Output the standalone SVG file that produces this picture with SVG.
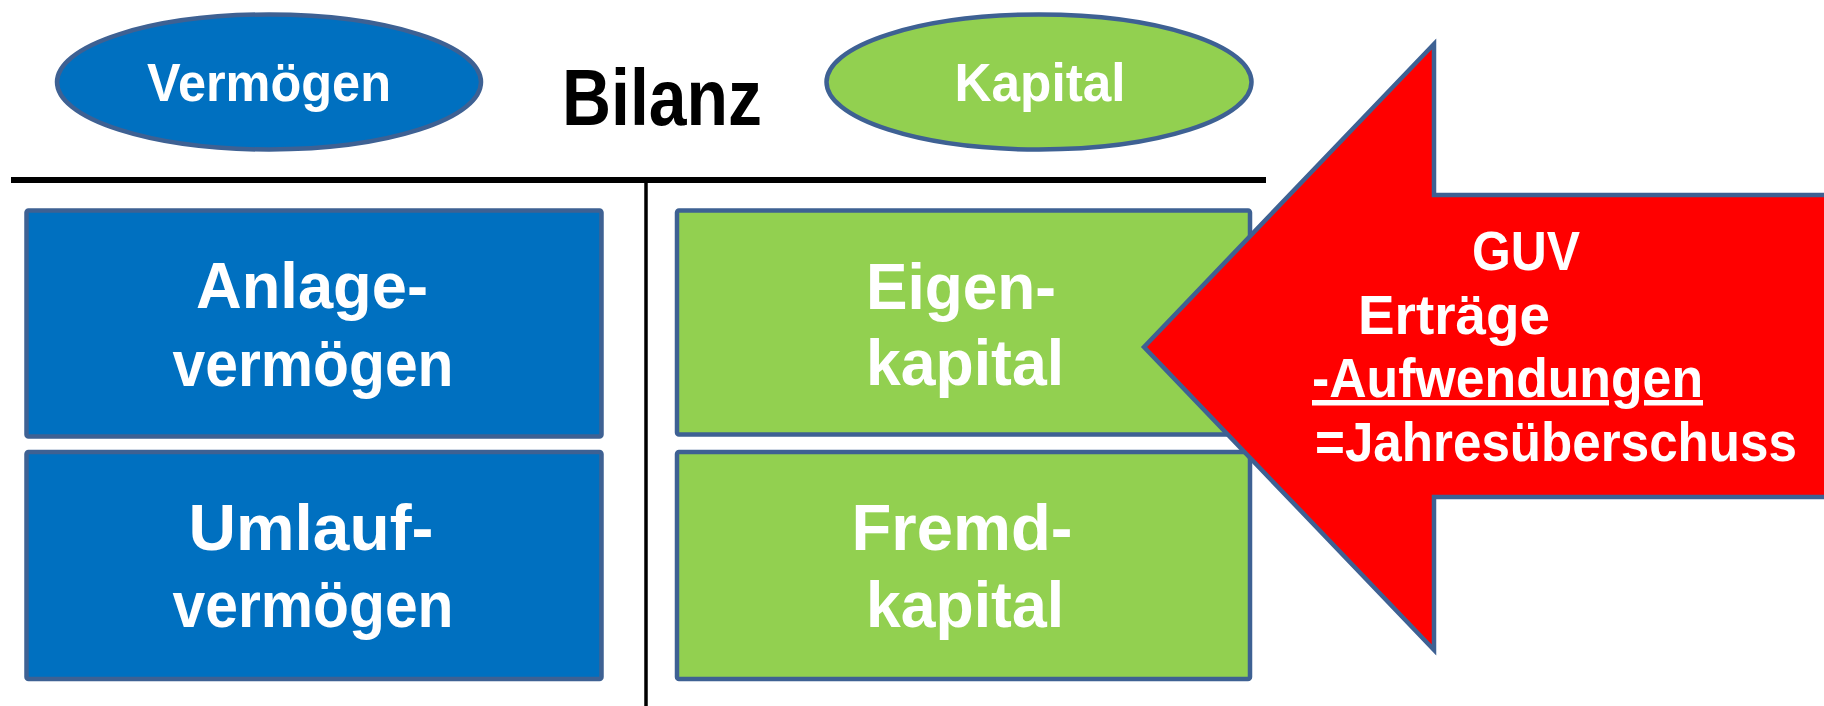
<svg xmlns="http://www.w3.org/2000/svg" width="1824" height="706" viewBox="0 0 1824 706">
<style>
.blue{fill:#0070C0;stroke:#3E6193;stroke-width:4.5}
.green{fill:#92D050;stroke:#3E6193;stroke-width:4.5}
.red{fill:#FF0000;stroke:#3E6193;stroke-width:4.5;stroke-linejoin:miter}
.t{font-family:"Liberation Sans","DejaVu Sans",sans-serif;font-weight:bold;fill:#FFFFFF}
.big{font-size:64px;text-anchor:middle}
.mid{font-size:54px;text-anchor:middle}
.arr{font-size:55px}
.ul{text-decoration:underline}
.title{font-family:"Liberation Sans","DejaVu Sans",sans-serif;font-weight:bold;font-size:80px;fill:#000000}
</style>
<rect width="1824" height="706" fill="#FFFFFF"/>
<g id="lines">
<line x1="11" y1="180" x2="1266" y2="180" stroke="#000" stroke-width="6"/>
<line x1="646" y1="180" x2="646" y2="706" stroke="#000" stroke-width="3.5"/>
</g>
<g id="vermoegen-header">
<ellipse class="blue" cx="269" cy="82" rx="212" ry="67.5"/>
<text class="t mid" x="269" y="101" textLength="244" lengthAdjust="spacingAndGlyphs">Vermögen</text>
</g>
<g id="bilanz-title">
<text class="title" x="562" y="125" textLength="200" lengthAdjust="spacingAndGlyphs">Bilanz</text>
</g>
<g id="kapital-header">
<ellipse class="green" cx="1039" cy="82" rx="212.5" ry="67.5"/>
<text class="t mid" x="1040" y="101" textLength="171" lengthAdjust="spacingAndGlyphs">Kapital</text>
</g>
<g id="anlagevermoegen">
<rect class="blue" x="26.5" y="210.5" width="575" height="226" rx="2"/>
<text class="t big" x="312" y="308" textLength="232" lengthAdjust="spacingAndGlyphs">Anlage-</text>
<text class="t big" x="313" y="386" textLength="281" lengthAdjust="spacingAndGlyphs">vermögen</text>
</g>
<g id="umlaufvermoegen">
<rect class="blue" x="26.5" y="452" width="575" height="227" rx="2"/>
<text class="t big" x="311" y="550" textLength="245" lengthAdjust="spacingAndGlyphs">Umlauf-</text>
<text class="t big" x="313" y="627" textLength="281" lengthAdjust="spacingAndGlyphs">vermögen</text>
</g>
<g id="eigenkapital">
<rect class="green" x="677" y="210.5" width="573" height="224" rx="2"/>
<text class="t big" x="961" y="309" textLength="190" lengthAdjust="spacingAndGlyphs">Eigen-</text>
<text class="t big" x="965" y="385" textLength="198" lengthAdjust="spacingAndGlyphs">kapital</text>
</g>
<g id="fremdkapital">
<rect class="green" x="677" y="452" width="573" height="227" rx="2"/>
<text class="t big" x="962" y="550" textLength="221" lengthAdjust="spacingAndGlyphs">Fremd-</text>
<text class="t big" x="965" y="627" textLength="198" lengthAdjust="spacingAndGlyphs">kapital</text>
</g>
<g id="guv-arrow">
<polygon class="red" points="1144,347 1434,44 1434,195 1834,195 1834,497 1434,497 1434,650"/>
<text class="t arr" x="1472" y="270" textLength="108" lengthAdjust="spacingAndGlyphs">GUV</text>
<text class="t arr" x="1358" y="334" textLength="192" lengthAdjust="spacingAndGlyphs">Erträge</text>
<text class="t arr ul" x="1312" y="397" textLength="391" lengthAdjust="spacingAndGlyphs">-Aufwendungen</text>
<text class="t arr" x="1315" y="461" textLength="482" lengthAdjust="spacingAndGlyphs">=Jahresüberschuss</text>
</g>
</svg>
